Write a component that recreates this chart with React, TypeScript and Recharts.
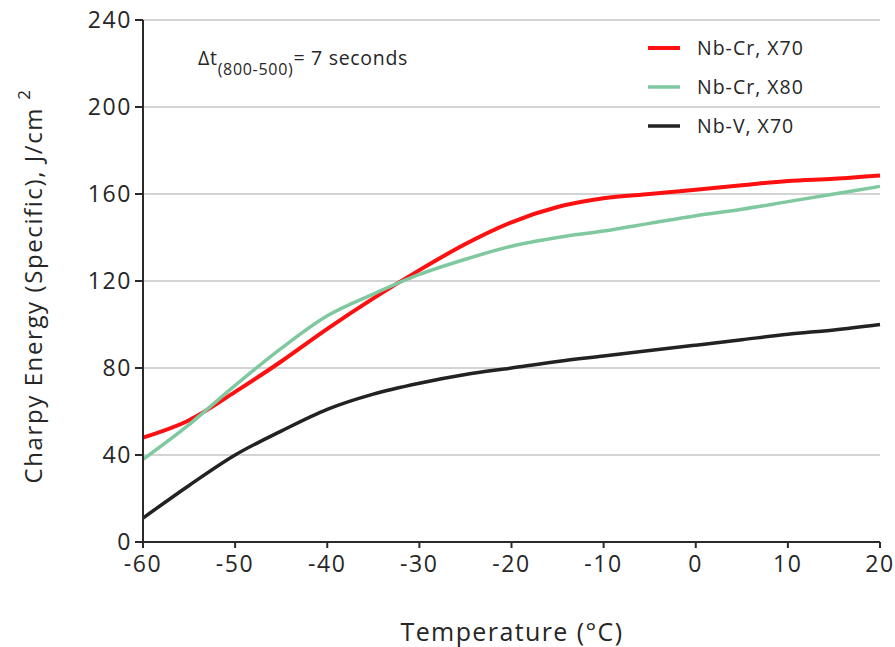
import React from "react";
import { LineChart, Line, XAxis, YAxis, CartesianGrid, Customized } from "recharts";

const temps = [-60, -55, -50, -45, -40, -35, -30, -25, -20, -15, -10, -5, 0, 5, 10, 15, 20];
const nbCrX70 = [48, 56, 69, 83, 98, 112, 125, 137, 147, 154, 158, 160, 162, 164, 166, 167, 168.5];
const nbCrX80 = [38, 54, 72, 89, 104, 114, 123, 130, 136, 140, 143, 146.5, 150, 153, 156.5, 160, 163.5];
const nbVX70 = [11, 26, 40, 51, 61, 68, 73, 77, 80, 83, 85.5, 88, 90.5, 93, 95.5, 97.5, 100];

const xTicks = [-60, -50, -40, -30, -20, -10, 0, 10, 20];
const yTicks = [0, 40, 80, 120, 160, 200, 240];

const series = [
  { key: "nbCrX70", name: "Nb-Cr, X70", color: "#ff1010", width: 4 },
  { key: "nbCrX80", name: "Nb-Cr, X80", color: "#80c9a0", width: 3.5 },
  { key: "nbVX70", name: "Nb-V, X70", color: "#222222", width: 3.5 },
];

const data = temps.map((t, i) => ({
  t,
  nbCrX70: nbCrX70[i],
  nbCrX80: nbCrX80[i],
  nbVX70: nbVX70[i],
}));

const FONT = "'Open Sans', 'DejaVu Sans', sans-serif";
const TEXT = "#262626";

// legend, annotation and axis titles drawn straight into the svg
const Extras = () => (
  <g fontFamily={FONT} fill={TEXT} fontWeight={500}>
    {series.map((s, i) => (
      <g key={s.key}>
        <line x1={648} x2={680} y1={48 + i * 39} y2={48 + i * 39} stroke={s.color} strokeWidth={s.width} />
        <text x={697} y={55 + i * 39} fontSize={19.5} letterSpacing={1}>
          {s.name}
        </text>
      </g>
    ))}
    <text x={198} y={65} fontSize={19.5} letterSpacing={0.7}>
      Δt
      <tspan dy={10} fontSize={16}>(800-500)</tspan>
      <tspan dy={-10}>= 7 seconds</tspan>
    </text>
    <text
      transform="translate(42,286) rotate(-90)"
      textAnchor="middle"
      fontSize={24}
      letterSpacing={1.6}
    >
      Charpy Energy (Specific), J/cm
      <tspan dx={7} dy={-12} fontSize={17}>2</tspan>
    </text>
    <text x={512} y={641} textAnchor="middle" fontSize={25} letterSpacing={1.4}>
      Temperature (°C)
    </text>
  </g>
);

const tickStyle = { fill: TEXT, fontSize: 23, fontFamily: FONT, letterSpacing: 1.6, fontWeight: 500 };

export default function App() {
  return (
    <div style={{ position: "absolute", left: 0, top: 0, background: "#fff" }}>
      <LineChart width={895} height={647} data={data} margin={{ top: 20, right: 15, left: 0, bottom: 0 }}>
        <CartesianGrid vertical={false} stroke="#d4d4d4" strokeWidth={2} />
        <XAxis
          dataKey="t"
          type="number"
          domain={[-60, 20]}
          ticks={xTicks}
          height={105}
          tickSize={6}
          tickMargin={8}
          stroke="#2a2a2a"
          strokeWidth={2}
          tick={tickStyle}
        />
        <YAxis
          type="number"
          domain={[0, 240]}
          ticks={yTicks}
          width={143}
          tickSize={8}
          tickMargin={3}
          stroke="#2a2a2a"
          strokeWidth={2}
          tick={tickStyle}
        />
        {series.map((s) => (
          <Line
            key={s.key}
            type="monotone"
            dataKey={s.key}
            name={s.name}
            stroke={s.color}
            strokeWidth={s.width}
            dot={false}
            isAnimationActive={false}
          />
        ))}
        <Customized component={Extras} />
      </LineChart>
    </div>
  );
}
